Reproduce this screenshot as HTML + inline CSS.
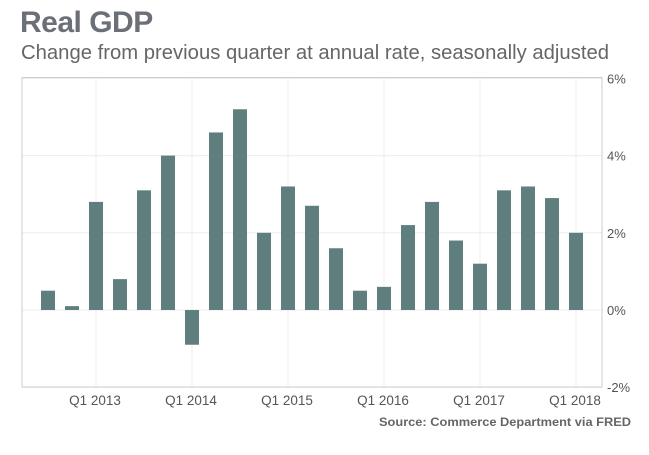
<!DOCTYPE html>
<html><head><meta charset="utf-8"><style>
body{margin:0;background:#fff;width:649px;height:450px;overflow:hidden;font-family:"Liberation Sans",sans-serif}
</style></head><body>
<svg width="649" height="450">
<text x="20" y="32" font-size="30" font-weight="bold" fill="#6b6f78" letter-spacing="-0.5">Real GDP</text>
<text x="21" y="59" font-size="20" fill="#666" textLength="588" lengthAdjust="spacingAndGlyphs">Change from previous quarter at annual rate, seasonally adjusted</text>
<g id="grid"></g>
<g id="bars"></g>
<g id="axes"></g>
<text x="631" y="426" font-size="12" font-weight="bold" fill="#666" text-anchor="end" textLength="252" lengthAdjust="spacingAndGlyphs">Source: Commerce Department via FRED</text>
</svg>
<script>
const values=[0.5,0.1,2.8,0.8,3.1,4.0,-0.9,4.6,5.2,2.0,3.2,2.7,1.6,0.5,0.6,2.2,2.8,1.8,1.2,3.1,3.2,2.9,2.0];
const yTicks=[6,4,2,0,-2];
const xLabels=["Q1 2013","Q1 2014","Q1 2015","Q1 2016","Q1 2017","Q1 2018"];
const xLabelIdx=[2,6,10,14,18,22];
const L=22,R=602,T=77.5,B=387;
const y=v=>310-v*38.6;
const x=i=>48+i*24;
const NS="http://www.w3.org/2000/svg";
function mk(t,a,p){const e=document.createElementNS(NS,t);for(const k in a)e.setAttribute(k,a[k]);p.appendChild(e);return e;}
const grid=document.getElementById('grid'),bars=document.getElementById('bars'),axes=document.getElementById('axes');
yTicks.forEach(v=>{
 const l=mk('line',{x1:L,x2:R,y1:y(v),y2:y(v),stroke:'#ececec','stroke-width':1},grid);
 
 
 const t=mk('text',{x:607,y:y(v)+5,'font-size':13,fill:'#555'},axes);
 t.textContent=v+'%';
 
 
});
xLabelIdx.forEach((idx,k)=>{
 const l=mk('line',{x1:x(idx),x2:x(idx),y1:T,y2:B,stroke:'#ececec','stroke-width':1},grid);
 
 
 const t=mk('text',{x:x(idx)-1,y:405,'font-size':13.5,fill:'#555','text-anchor':'middle'},axes);
 t.textContent=xLabels[k];
 
 
});
const fr=mk('rect',{x:L,y:T,width:R-L,height:B-T,fill:'none',stroke:'#ccc','stroke-width':1},axes);


values.forEach((v,i)=>{
 const r=mk('rect',{x:x(i)-7,y:Math.min(y(v),y(0)),width:14,height:Math.abs(y(v)-y(0)),fill:'#5f7f7f'},bars);
 
 
});
</script>
</body></html>
